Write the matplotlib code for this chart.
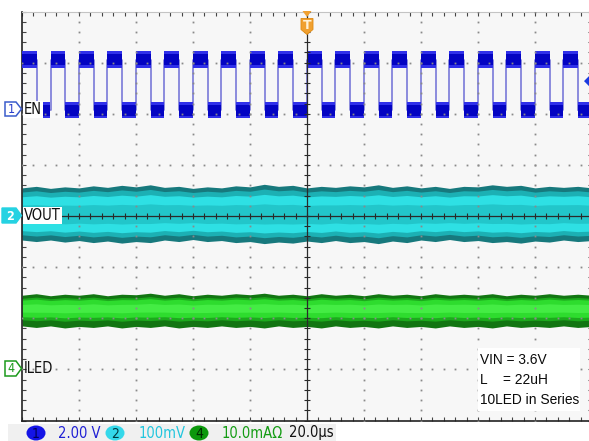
import matplotlib
matplotlib.use("Agg")
import matplotlib.pyplot as plt
import numpy as np
from matplotlib.patches import Rectangle, Polygon, Ellipse

# time axis in divisions (20.0 us/div), 0 = trigger point
# channel 1 (EN, 2.00 V/div): edge times and levels, in divisions
en_rise = [-5.0, -4.5, -4.0, -3.5, -3.0, -2.5, -2.0, -1.5, -1.0, -0.5,
           0.0, 0.5, 1.0, 1.5, 2.0, 2.5, 3.0, 3.5, 4.0, 4.5]
en_fall = [-4.74, -4.24, -3.74, -3.24, -2.74, -2.24, -1.74, -1.24, -0.74, -0.24,
           0.26, 0.76, 1.26, 1.76, 2.26, 2.76, 3.26, 3.76, 4.26, 4.76]
en_low = 2.07
en_high = 3.06
trig_level = 2.64

# channel 2 (VOUT, 100 mV/div) and channel 4 (ILED) noise envelopes,
# read off the screen every 0.25 div
env_x = np.arange(41) * 0.25 - 5
vout_top = [0.55, 0.58, 0.54, 0.57, 0.55, 0.59, 0.56, 0.60, 0.57, 0.61, 0.56,
            0.58, 0.54, 0.57, 0.55, 0.59, 0.57, 0.62, 0.58, 0.60, 0.55,
            0.58, 0.56, 0.59, 0.57, 0.61, 0.56, 0.59, 0.55, 0.58, 0.54,
            0.58, 0.57, 0.61, 0.58, 0.60, 0.55, 0.58, 0.56, 0.58, 0.55]
vout_bot = [-0.47, -0.50, -0.47, -0.51, -0.48, -0.52, -0.49, -0.53, -0.50, -0.52, -0.47,
            -0.50, -0.46, -0.50, -0.48, -0.52, -0.50, -0.54, -0.51, -0.53, -0.49,
            -0.52, -0.48, -0.52, -0.50, -0.54, -0.49, -0.52, -0.47, -0.50, -0.46,
            -0.50, -0.48, -0.52, -0.50, -0.53, -0.49, -0.51, -0.47, -0.50, -0.48]
iled_top = [-1.55, -1.52, -1.56, -1.53, -1.55, -1.52, -1.56, -1.53, -1.54, -1.51, -1.55,
            -1.52, -1.56, -1.53, -1.55, -1.52, -1.54, -1.51, -1.55, -1.53, -1.56,
            -1.52, -1.55, -1.53, -1.56, -1.52, -1.55, -1.53, -1.56, -1.52, -1.55,
            -1.53, -1.55, -1.52, -1.56, -1.53, -1.55, -1.52, -1.55, -1.53, -1.55]
iled_bot = [-2.15, -2.18, -2.15, -2.19, -2.16, -2.18, -2.15, -2.19, -2.16, -2.18, -2.15,
            -2.19, -2.16, -2.18, -2.15, -2.18, -2.16, -2.19, -2.15, -2.18, -2.16,
            -2.19, -2.15, -2.18, -2.16, -2.19, -2.15, -2.18, -2.16, -2.19, -2.15,
            -2.18, -2.16, -2.19, -2.15, -2.18, -2.16, -2.18, -2.15, -2.18, -2.16]

chan_labels = ["EN", "VOUT", "ILED"]
scale_text = ["2.00 V", "100mV", "10.0mA\u03a9"]
timebase = "20.0\u00b5s"
note_lines = ["VIN = 3.6V", "L", "= 22uH", "10LED in Series"]

W, H = 589, 441
fig = plt.figure(figsize=(W / 100, H / 100), dpi=100)
fig.patch.set_facecolor("white")

# graticule: 10 x 8 divisions, pixel box 22..592 x 11.5..420.5
ax = fig.add_axes([22 / W, (H - 420.5) / H, 570 / W, 409 / H])
ax.set_facecolor("#f7f7f7")
ax.set_xlim(-5, 5)
ax.set_ylim(-4, 4)
ax.set_xticks(np.arange(-5, 6, 1))
ax.set_yticks(np.arange(-4, 5, 1))
ax.set_xticks(np.arange(-5, 5.01, 0.2), minor=True)
ax.set_yticks(np.arange(-4, 4.01, 0.2), minor=True)
ax.tick_params(which="both", direction="in", length=3, width=0.8, color="#444444",
               top=True, right=True, labelbottom=False, labelleft=False)
for s in ["left", "bottom"]:
    ax.spines[s].set_color("#222222")
    ax.spines[s].set_linewidth(1.2)
ax.spines["top"].set_color("#c4c4c4")
ax.spines["top"].set_linewidth(0.8)

# ch1 EN square wave
xs, ys = [], []
for r, f in zip(en_rise, en_fall):
    xs += [r, r, f, f]
    ys += [en_low, en_high, en_high, en_low]
ax.plot(xs, ys, color="#7a7ad8", lw=1.2, zorder=2)
lows = list(zip(en_fall, en_rise[1:] + [5.0]))
for a, b in zip(en_rise, en_fall):
    ax.add_patch(Rectangle((a, en_high - 0.16), b - a, 0.32, color="#3030ea", lw=0, zorder=3))
    ax.add_patch(Rectangle((a, en_high - 0.11), b - a, 0.22, color="#0404c2", lw=0, zorder=3))
for a, b in lows:
    ax.add_patch(Rectangle((a, en_low - 0.16), b - a, 0.32, color="#3030ea", lw=0, zorder=3))
    ax.add_patch(Rectangle((a, en_low - 0.11), b - a, 0.22, color="#0404c2", lw=0, zorder=3))

# ch2 VOUT noise band
vt = np.array(vout_top)
vb = np.array(vout_bot)
vm = (vt + vb) / 2
vh = (vt - vb) / 2
ax.fill_between(env_x, vb, vt, color="#17797d", lw=0, zorder=2)
ax.fill_between(env_x, vm - vh * 0.80, vm + vh * 0.84, color="#1cb0b4", lw=0, zorder=2)
ax.fill_between(env_x, vm - vh * 0.64, vm + vh * 0.66, color="#2ee0e4", lw=0, zorder=2)
ax.fill_between(env_x, vm - vh * 0.34, vm + vh * 0.34, color="#22c6ca", lw=0, zorder=2)

# ch4 ILED noise band
it = np.array(iled_top)
ib = np.array(iled_bot)
ih = it - ib
ax.fill_between(env_x, ib, it, color="#127512", lw=0, zorder=2)
ax.fill_between(env_x, ib + ih * 0.2, it - ih * 0.1, color="#1caa1c", lw=0, zorder=2)
ax.fill_between(env_x, ib + ih * 0.3, it - ih * 0.16, color="#2edc2e", lw=0, zorder=2)
ax.fill_between(env_x, ib + ih * 0.45, it - ih * 0.3, color="#44ec44", lw=0, zorder=2)

# dotted grid
dot_y = np.arange(-4, 4.01, 0.2)
dot_x = np.arange(-5, 5.01, 0.2)
for gx in [-4, -3, -2, -1, 1, 2, 3, 4]:
    ax.plot(np.full_like(dot_y, gx), dot_y, ls="", marker="s", ms=1.3,
            color="#8a8a8a", mew=0, zorder=4)
for gy in [-3, -2, -1, 1, 2, 3]:
    ax.plot(dot_x, np.full_like(dot_x, gy), ls="", marker="s", ms=1.3,
            color="#8a8a8a", mew=0, zorder=4)

# centre cross with minor ticks
ax.axhline(0, color="#2a2a2a", lw=0.9, zorder=5)
ax.axvline(0, color="#2a2a2a", lw=0.9, zorder=5)
ax.plot(dot_x, np.zeros_like(dot_x), ls="", marker="|", ms=4, mew=0.8,
        color="#2a2a2a", zorder=5)
ax.plot(np.zeros_like(dot_y), dot_y, ls="", marker="_", ms=4, mew=0.8,
        color="#2a2a2a", zorder=5)

# overlay in pixel coordinates for the screen decorations
ov = fig.add_axes([0, 0, 1, 1])
ov.set_xlim(0, W)
ov.set_ylim(H, 0)
ov.axis("off")

cond = dict(family="DejaVu Sans", stretch="condensed")

# channel tags at left
ov.add_patch(Polygon([(5, 102), (16, 102), (21.5, 109), (16, 116), (5, 116)],
                     closed=True, fc="white", ec="#3b5ccc", lw=1.1))
ov.text(11, 109.5, "1", color="#2a3fcc", fontsize=9, ha="center", va="center", **cond)
ov.add_patch(Polygon([(2, 208), (16, 208), (21.5, 215.5), (16, 223), (2, 223)],
                     closed=True, fc="#25d2e2", ec="#25d2e2", lw=1))
ov.text(10.5, 216, "2", color="white", fontsize=9, ha="center", va="center",
        weight="bold", **cond)
ov.add_patch(Polygon([(5, 361), (16, 361), (21.5, 368.5), (16, 376), (5, 376)],
                     closed=True, fc="white", ec="#1c9a1c", lw=1.1))
ov.text(11, 369, "4", color="#1c9a1c", fontsize=9, ha="center", va="center", **cond)

lab_box = dict(fc="white", ec="none", pad=0.6)
ov.text(24, 109.5, chan_labels[0], fontsize=10.5, color="#111111", ha="left", va="center",
        bbox=lab_box, **cond)
ov.text(24, 215.5, chan_labels[1], fontsize=10.5, color="#111111", ha="left", va="center",
        bbox=lab_box, **cond)
ov.text(24, 368.5, chan_labels[2], fontsize=10.5, color="#111111", ha="left", va="center",
        **cond)

# trigger position marker
ov.add_patch(Polygon([(302.5, 11), (311.5, 11), (307, 17)], closed=True, fc="#f0a030", ec="none"))
ov.add_patch(Polygon([(301, 18.5), (313, 18.5), (313, 29.5), (307, 34.5), (301, 29.5)],
                     closed=True, fc="#f0a030", ec="#e08a10", lw=0.6))
ov.text(307, 25.5, "T", color="#fff2d8", fontsize=9, weight="bold", ha="center", va="center",
        family="DejaVu Sans")

# trigger level arrow (right edge)
ty = 216 - trig_level * 51.1
ov.add_patch(Polygon([(584, ty), (589, ty - 5), (589, ty + 5)], closed=True,
                     fc="#1a3ae0", ec="none"))

# annotation box
ov.add_patch(Rectangle((478, 348), 102, 63, fc="white", ec="none"))
note = dict(family=["Liberation Sans", "DejaVu Sans"], fontsize=9.9, color="#0a0a0a",
            va="center", ha="left")
ov.text(480, 360, note_lines[0], **note)
ov.text(480, 380, note_lines[1], **note)
ov.text(503, 380, note_lines[2], **note)
ov.text(480, 400.5, note_lines[3], **note)

# bottom status bar
ov.add_patch(Rectangle((8, 424), 328, 17, fc="#f0f0f0", ec="none"))
by = 433
badges = [(36, "1", "#1414e6", "#00005a"), (115, "2", "#34d8ea", "#003a40"),
          (199, "4", "#0c980c", "#002a00")]
for cx, t, fc, tc in badges:
    ov.add_patch(Ellipse((cx, by), 19, 15, fc=fc, ec="none"))
    ov.text(cx, by + 0.5, t, color=tc, fontsize=10, ha="center", va="center", **cond)
ov.text(58, by, scale_text[0], color="#2020d4", fontsize=10.5, ha="left", va="center", **cond)
ov.text(139, by, scale_text[1], color="#22c6de", fontsize=10.5, ha="left", va="center", **cond)
ov.text(222, by, scale_text[2], color="#139c13", fontsize=10.5, ha="left", va="center", **cond)
ov.text(289, by, timebase, color="#111111", fontsize=10.5, ha="left", va="center", **cond)

fig.savefig("out.png", dpi=100)
